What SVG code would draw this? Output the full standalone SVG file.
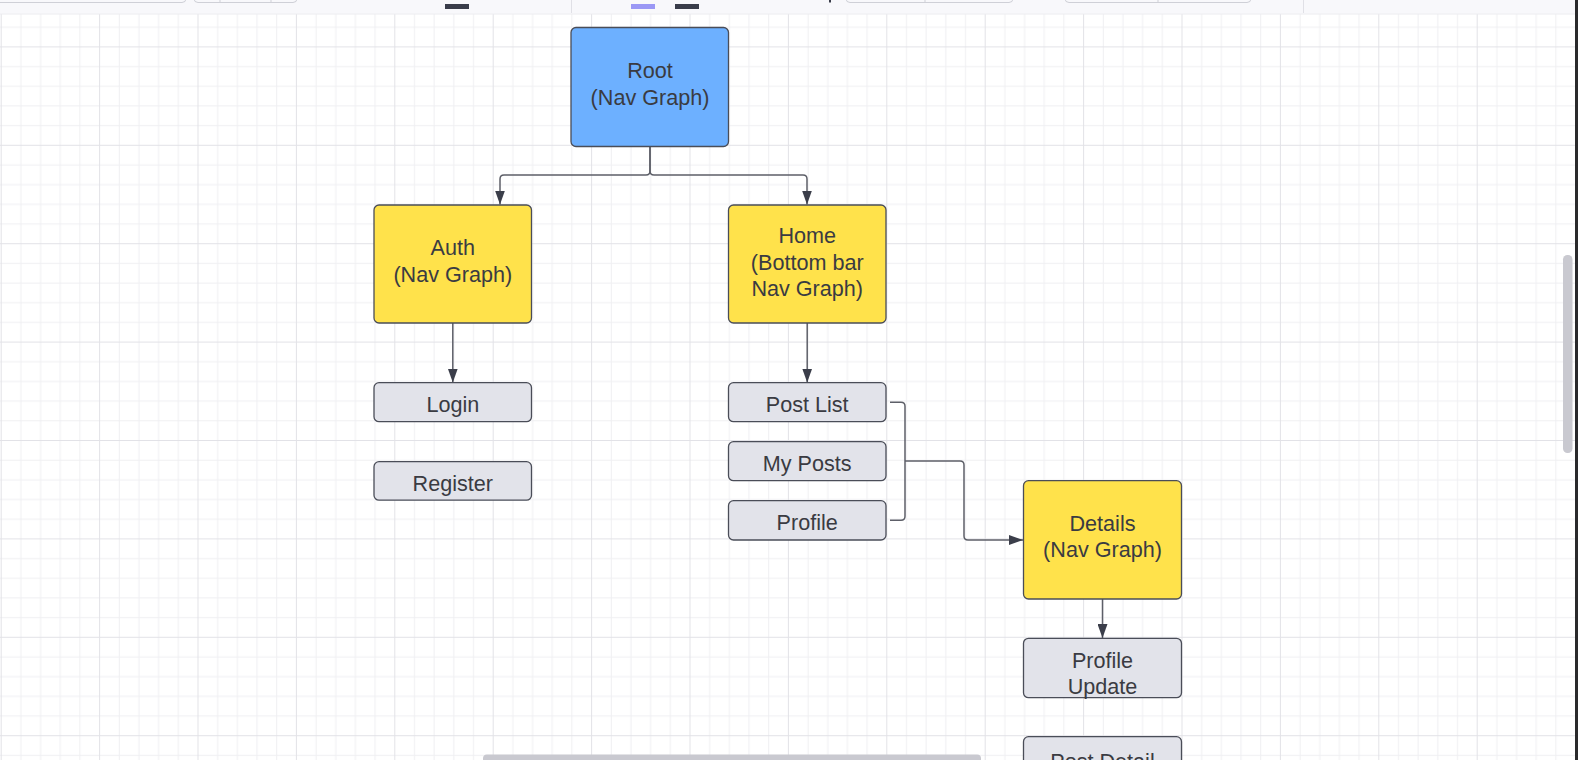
<svg xmlns="http://www.w3.org/2000/svg" width="1578" height="760" viewBox="0 0 1578 760">
<defs>
  <pattern id="grid" patternUnits="userSpaceOnUse" x="0.7" y="46.4" width="98.4" height="98.4">
    <g fill="#efeff2">
      <rect x="19.68" y="0" width="1" height="98.4"/>
      <rect x="39.36" y="0" width="1" height="98.4"/>
      <rect x="59.04" y="0" width="1" height="98.4"/>
      <rect x="78.72" y="0" width="1" height="98.4"/>
      <rect x="0" y="19.68" width="98.4" height="1"/>
      <rect x="0" y="39.36" width="98.4" height="1"/>
      <rect x="0" y="59.04" width="98.4" height="1"/>
      <rect x="0" y="78.72" width="98.4" height="1"/>
    </g>
    <g fill="#e2e2e7">
      <rect x="0" y="0" width="1" height="98.4"/>
      <rect x="0" y="0" width="98.4" height="1"/>
    </g>
  </pattern>
  <marker id="arrow" markerUnits="userSpaceOnUse" markerWidth="14" markerHeight="10" refX="14" refY="5" orient="auto">
    <path d="M0,0 L14,5 L0,10 z" fill="#3b3e4a"/>
  </marker>
</defs>
<style>
  .node rect { stroke: #4a4d58; stroke-width: 1.3; }
  .blue { fill: #6db0ff; }
  .yellow { fill: #ffe24b; }
  .gray { fill: #e2e3ea; }
  .node text { font-family: "Liberation Sans", Arial, sans-serif; font-size: 21.6px; fill: #3a3b42; text-anchor: middle; }
  .conn path { fill: none; stroke: #5d5f68; stroke-width: 1.5; }
  .conn .arr { marker-end: url(#arrow); }
  .tb { fill: none; stroke: #cfd0d7; stroke-width: 1; }
</style>

<!-- canvas -->
<rect x="0" y="0" width="1578" height="760" fill="#ffffff"/>
<rect x="0" y="14" width="1578" height="746" fill="url(#grid)"/>

<!-- toolbar -->
<g id="toolbar">
  <rect x="0" y="0" width="1578" height="13.5" fill="#f8f8fb"/>
  <rect x="0" y="13.5" width="1578" height="1" fill="#ececf0"/>
  <rect class="tb" x="-6" y="-20" width="192" height="22.5" rx="4"/>
  <rect class="tb" x="194" y="-20" width="103" height="22.5" rx="4"/>
  <line class="tb" x1="220" y1="0" x2="220" y2="2.5"/>
  <line class="tb" x1="271" y1="0" x2="271" y2="2.5"/>
  <rect x="445" y="4" width="24" height="5" fill="#3a3d4a"/>
  <rect x="571" y="0" width="1" height="13" fill="#e0e0e6"/>
  <rect x="631" y="4" width="24" height="5" fill="#9b98f5"/>
  <rect x="675" y="4" width="24" height="5" fill="#3a3d4a"/>
  <rect x="829" y="0" width="2" height="2.5" fill="#3a3d4a"/>
  <rect class="tb" x="846" y="-20" width="167" height="22.5" rx="4"/>
  <line class="tb" x1="925" y1="0" x2="925" y2="2.5"/>
  <rect class="tb" x="1065" y="-20" width="186" height="22.5" rx="4"/>
  <line class="tb" x1="1158" y1="0" x2="1158" y2="2.5"/>
  <rect x="1303" y="0" width="1" height="13" fill="#e0e0e6"/>
</g>

<!-- connectors -->
<g id="connectors" class="conn">
  <path class="arr" d="M650,147 V171 Q650,175 646,175 H504 Q500,175 500,179 V204.5"/>
  <path class="arr" d="M650,147 V171 Q650,175 654,175 H803 Q807,175 807,179 V204.5"/>
  <path class="arr" d="M452.8,323 V382.5"/>
  <path class="arr" d="M807.2,323 V382.5"/>
  <path d="M890,402.3 H901 Q905,402.3 905,406.3 V516.3 Q905,520.3 901,520.3 H890"/>
  <path class="arr" d="M905,461 H960 Q964,461 964,465 V536 Q964,540 968,540 H1023"/>
  <path class="arr" d="M1102.5,599 V638"/>
</g>

<!-- nodes -->
<g id="root" class="node">
  <rect class="blue" x="571" y="27.5" width="157.5" height="119" rx="5"/>
  <text x="650" y="78.3">Root</text>
  <text x="650" y="105">(Nav Graph)</text>
</g>
<g id="auth" class="node">
  <rect class="yellow" x="374" y="205" width="157.5" height="118" rx="5"/>
  <text x="452.8" y="255">Auth</text>
  <text x="452.8" y="281.7">(Nav Graph)</text>
</g>
<g id="home" class="node">
  <rect class="yellow" x="728.5" y="205" width="157.5" height="118" rx="5"/>
  <text x="807.2" y="243.3">Home</text>
  <text x="807.2" y="270">(Bottom bar</text>
  <text x="807.2" y="296.3">Nav Graph)</text>
</g>
<g id="login" class="node">
  <rect class="gray" x="374" y="382.7" width="157.5" height="39" rx="5"/>
  <text x="452.8" y="412.3">Login</text>
</g>
<g id="register" class="node">
  <rect class="gray" x="374" y="461.7" width="157.5" height="38.5" rx="5"/>
  <text x="452.8" y="491">Register</text>
</g>
<g id="post-list" class="node">
  <rect class="gray" x="728.5" y="382.7" width="157.5" height="39" rx="5"/>
  <text x="807.2" y="412.3">Post List</text>
</g>
<g id="my-posts" class="node">
  <rect class="gray" x="728.5" y="441.7" width="157.5" height="39" rx="5"/>
  <text x="807.2" y="470.7">My Posts</text>
</g>
<g id="profile" class="node">
  <rect class="gray" x="728.5" y="500.7" width="157.5" height="39.3" rx="5"/>
  <text x="807.2" y="530">Profile</text>
</g>
<g id="details" class="node">
  <rect class="yellow" x="1023.5" y="480.7" width="158" height="118.3" rx="5"/>
  <text x="1102.5" y="530.7">Details</text>
  <text x="1102.5" y="557.3">(Nav Graph)</text>
</g>
<g id="profile-update" class="node">
  <rect class="gray" x="1023.5" y="638.3" width="158" height="59.4" rx="5"/>
  <text x="1102.5" y="668.3">Profile</text>
  <text x="1102.5" y="694">Update</text>
</g>
<g id="post-detail" class="node">
  <rect class="gray" x="1023.5" y="736.7" width="158" height="60" rx="5"/>
  <text x="1102.5" y="768.5">Post Detail</text>
</g>

<!-- scrollbars and window edge -->
<rect x="483" y="754.5" width="498" height="10" rx="4" fill="#c9c9d0"/>
<rect x="1563" y="255" width="9.5" height="198" rx="4.5" fill="#c9c9d0"/>
<rect x="1575" y="0" width="3" height="760" fill="#2a2a2c"/>
</svg>
